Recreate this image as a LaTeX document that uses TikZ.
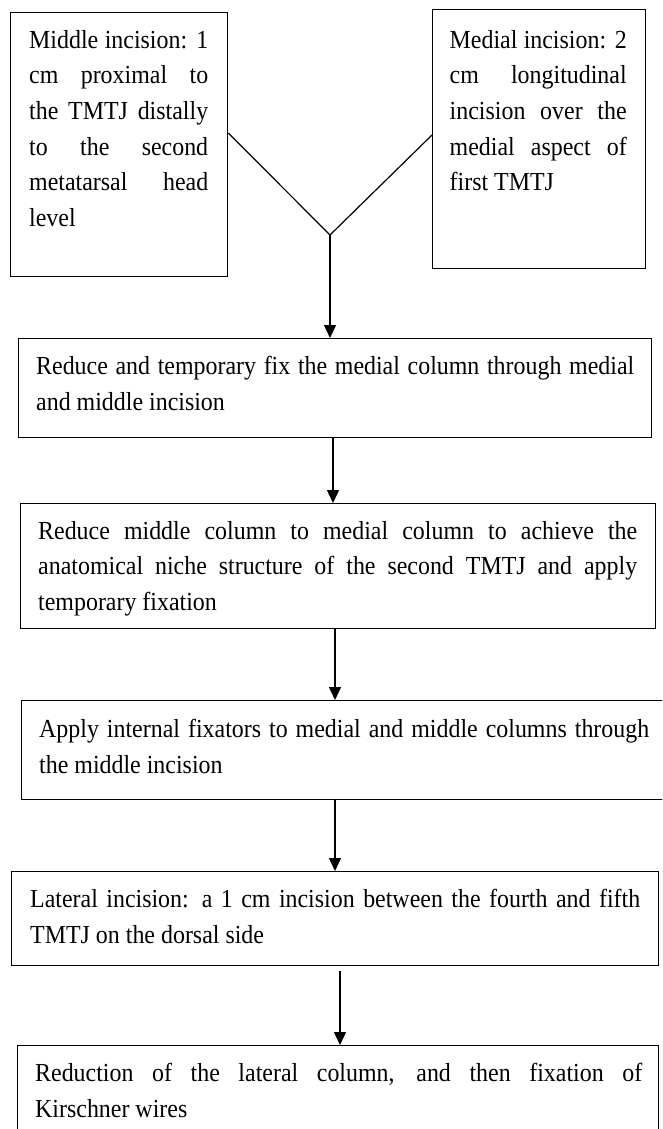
\documentclass[tikz,border=0pt]{standalone}
\usepackage{fontspec}
\setmainfont{Liberation Serif}[FakeStretch=0.92]
\usetikzlibrary{arrows.meta,calc}
\setlength\parindent{0pt}
\tolerance=10000
\hyphenpenalty=10000
\begin{document}
\begin{tikzpicture}[x=1pt,y=-1pt,
  box/.style={draw, line width=1.3pt, inner sep=0pt, anchor=north west},
  txt/.style={inner sep=0pt, anchor=north west, align=justify,
    font=\fontsize{26}{35.6}\selectfont},
  conn/.style={line width=1.2pt},
  arr/.style={line width=1.4pt, -{Triangle[width=12pt,length=13pt]}}]
\useasboundingbox (0,0) rectangle (662,1129);
\clip (0,0) rectangle (662,1129);
\fill[white] (0,0) rectangle (662,1129);
% boxes
\node[box, minimum width=217pt, minimum height=264pt] (b1) at (10,12) {};
\node[box, minimum width=213pt, minimum height=259pt] (b2) at (432,9) {};
\node[box, minimum width=633pt, minimum height=99pt] (b3) at (18,338) {};
\node[box, minimum width=635pt, minimum height=125pt] (b4) at (20,503) {};
\node[box, minimum width=654pt, minimum height=99pt] (b5) at (21,700) {};
\node[box, minimum width=647pt, minimum height=94pt] (b6) at (11,871) {};
\node[box, minimum width=641pt, minimum height=110pt] (b7) at (17,1045) {};
% texts
\node[txt, text width=179pt] (t1) at (29,30) {\rule{0pt}{18pt}Middle incision: 1\linebreak cm proximal to\linebreak the TMTJ distally\linebreak to the second\linebreak metatarsal head\linebreak level};
\node[txt, text width=177pt] (t2) at (449.5,30) {\rule{0pt}{18pt}Medial incision: 2\linebreak cm longitudinal\linebreak incision over the\linebreak medial aspect of\linebreak first TMTJ};
\node[txt, text width=598pt] (t3) at (36,356) {\rule{0pt}{18pt}Reduce and temporary fix the medial column through medial\linebreak and middle incision};
\node[txt, text width=599pt] (t4) at (38,521) {\rule{0pt}{18pt}Reduce middle column to medial column to achieve the\linebreak anatomical niche structure of the second TMTJ and apply\linebreak temporary fixation};
\node[txt, text width=610pt] (t5) at (39,719) {\rule{0pt}{18pt}Apply internal fixators to medial and middle columns through\linebreak the middle incision};
\node[txt, text width=610pt] (t6) at (30,889) {\rule{0pt}{18pt}Lateral incision: a 1 cm incision between the fourth and fifth\linebreak TMTJ on the dorsal side};
\node[txt, text width=607pt] (t7) at (35,1063) {\rule{0pt}{18pt}Reduction of the lateral column, and then fixation of\linebreak Kirschner wires};
% connectors
\coordinate (J) at (330,235);
\coordinate (a34) at (333,0);
\coordinate (a45) at (335,0);
\coordinate (a56) at (335,0);
\coordinate (a67) at (340,0);
\draw[conn] ($(b1.north east)+(0,121)$) -- (J);
\draw[conn] ($(b2.north west)+(0,126)$) -- (J);
\draw[arr] (J) -- (b3.north -| J);
\draw[arr] (b3.south -| a34) -- (b4.north -| a34);
\draw[arr] (b4.south -| a45) -- (b5.north -| a45);
\draw[arr] (b5.south -| a56) -- (b6.north -| a56);
\draw[arr, shorten <=5pt] (b6.south -| a67) -- (b7.north -| a67);
\end{tikzpicture}
\end{document}
